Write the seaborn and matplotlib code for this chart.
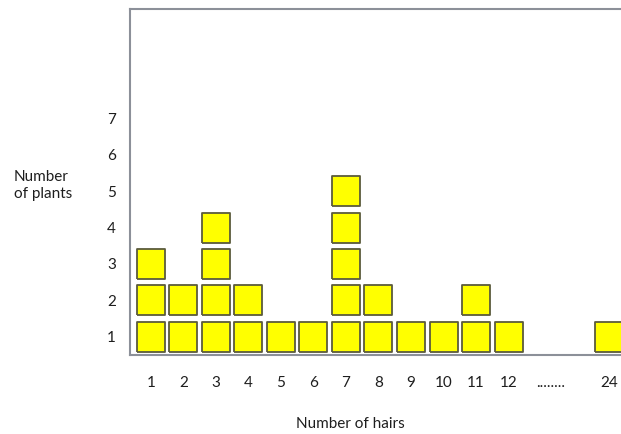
import pandas as pd
import matplotlib.pyplot as plt
import seaborn as sns

# number of hairs (categories) and how many plants for each
hairs = ["1", "2", "3", "4", "5", "6", "7", "8", "9", "10", "11", "12", "24"]
plants = [3, 2, 4, 2, 1, 1, 5, 2, 1, 1, 2, 1, 1]
y_ticks = [1, 2, 3, 4, 5, 6, 7]

# layout: 12 evenly spaced, then a gap with "........" and 24
xpos = list(range(12)) + [14.1]
gap_pos = 12.3

rows = []
for h, n, p in zip(hairs, plants, xpos):
    for k in range(1, n + 1):
        rows.append({"hairs": h, "pos": p, "plant": k})
df = pd.DataFrame(rows)

sns.set_style("white")
plt.rcParams["font.family"] = ["Lato", "DejaVu Sans"]

fig = plt.figure(figsize=(6.21, 4.34), dpi=100)
ax = fig.add_axes([0.209, 0.182, 0.791, 0.797])

# slightly tall rectangles like the original boxes
box = [(-0.93, -1), (0.93, -1), (0.93, 1), (-0.93, 1), (-0.93, -1)]
sns.scatterplot(data=df, x="pos", y="plant", marker=box, s=450,
                color="#ffff00", edgecolor="#5b5b3c", linewidth=1.3,
                ax=ax, legend=False)

ax.set_xlim(-0.65, 14.46)
ax.set_ylim(0.5, 10.0)

ax.set_xticks(xpos + [gap_pos])
ax.set_xticklabels(hairs + ["........"])
ax.set_yticks(y_ticks)
ax.tick_params(axis="both", length=0, labelsize=11, colors="#1e1e1e")
ax.tick_params(axis="x", pad=15)
ax.tick_params(axis="y", pad=10)

for side in ["left", "top", "bottom"]:
    ax.spines[side].set_color("#8c9099")
    ax.spines[side].set_linewidth(1.5)
ax.spines["right"].set_visible(False)

ax.set_xlabel("")
ax.set_ylabel("")
fig.text(0.565, 0.008, "Number of hairs", ha="center", va="bottom",
         fontsize=11, color="#1e1e1e")
fig.text(0.022, 0.572, "Number\nof plants", ha="left", va="center",
         fontsize=11, color="#1e1e1e", linespacing=1.25)

fig.savefig("out.png", dpi=100)
